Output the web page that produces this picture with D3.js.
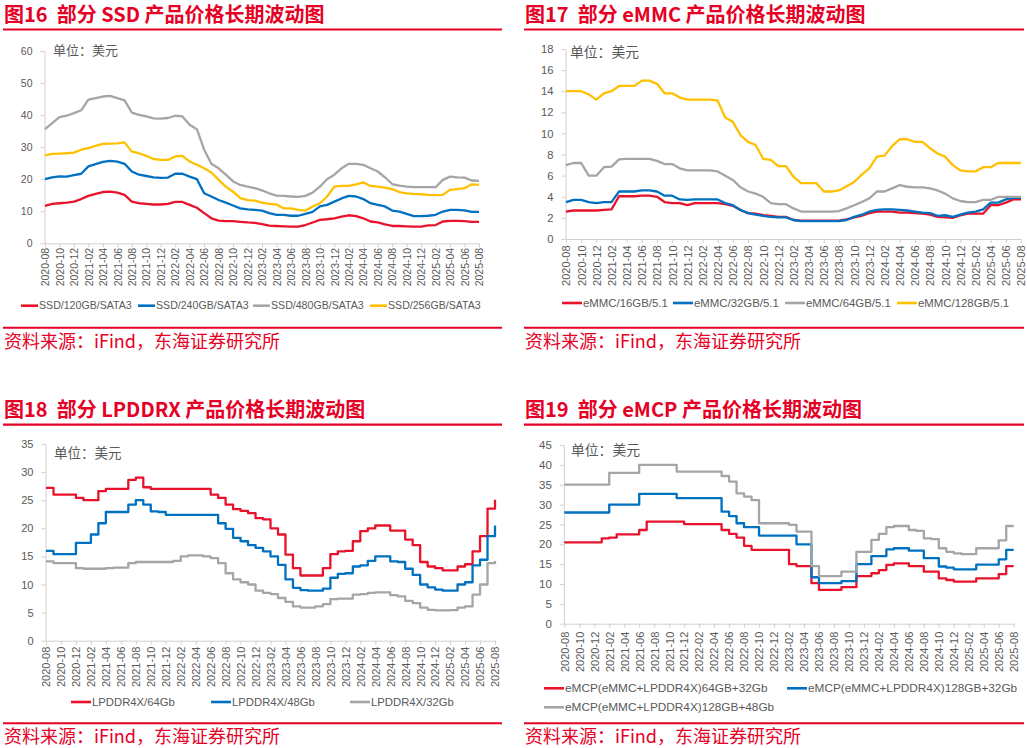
<!DOCTYPE html>
<html><head><meta charset="utf-8">
<script src="https://cdn.jsdelivr.net/npm/d3@7"></script>
<style>body{margin:0;background:#fff}svg{display:block}</style>
</head><body><svg id="c" width="1027" height="748"></svg>
<script>
// ---------- data ----------
const tickLabels = ["2020-08","2020-10","2020-12","2021-02","2021-04","2021-06","2021-08","2021-10","2021-12",
  "2022-02","2022-04","2022-06","2022-08","2022-10","2022-12","2023-02","2023-04","2023-06","2023-08","2023-10",
  "2023-12","2024-02","2024-04","2024-06","2024-08","2024-10","2024-12","2025-02","2025-04","2025-06","2025-08"];

// Fig16 SSD (monthly, 2020-08 .. 2025-08)
const ssdNames = ["SSD/120GB/SATA3","SSD/240GB/SATA3","SSD/480GB/SATA3","SSD/256GB/SATA3"];
const ssd120 = [11.7,12.3,12.5,12.7,13,13.8,14.8,15.4,16,16.1,15.8,15.1,13,12.5,12.3,12.1,12.1,12.3,12.9,12.9,
  12,11.1,9.4,7.8,7.1,6.9,6.9,6.7,6.5,6.4,6,5.5,5.4,5.3,5.2,5.2,5.7,6.5,7.3,7.5,
  7.8,8.3,8.75,8.5,7.8,6.8,6.5,5.9,5.4,5.4,5.3,5.2,5.2,5.6,5.7,6.8,7,7,6.9,6.7,6.7];
const ssd240 = [20,20.6,20.9,20.8,21.3,21.7,24,24.7,25.4,25.7,25.5,24.8,22.4,21.4,21,20.6,20.4,20.5,21.7,21.7,
  20.8,20,15.6,14.6,13.5,12.7,11.8,10.9,10.6,10.4,10.2,9.4,8.9,8.9,8.6,8.6,9.2,9.8,11.5,12,
  13,14,14.8,14.6,13.8,12.5,12,11.5,10.2,9.9,9.2,8.5,8.5,8.6,8.9,9.9,10.4,10.4,10.3,9.8,9.8];
const ssd480 = [35.6,37.5,39.4,39.8,40.6,41.5,44.8,45.3,45.8,46,45.3,44.6,40.8,40.1,39.6,39,38.9,39.1,39.8,39.6,
  37,35.6,29.2,24.8,23.4,21.4,19.3,18.2,17.7,17.2,16.5,15.6,14.9,14.8,14.6,14.5,14.8,15.8,17.7,20,
  21.4,23.4,24.8,24.8,24.5,23.4,22.4,20.6,18.5,18,17.7,17.5,17.5,17.5,17.5,19.8,20.8,20.6,20.5,19.6,19.5];
const ssd256 = [27.4,27.9,28,28.1,28.3,29.2,29.7,30.4,31,31.1,31.2,31.5,28.6,28.1,27.3,26.3,26,26,27.1,27.3,
  25.5,24.5,23.4,22.1,19.8,17.7,16.1,14.1,13.5,13.3,12.7,12.3,12.1,10.9,10.9,10.4,10.2,11.5,12.5,14.6,
  17.7,17.9,17.9,18.4,19,17.9,17.7,17.4,16.9,16,15.6,15.4,15.3,15.1,15,15.1,16.7,16.9,17.2,18.4,18.2];

// Fig17 eMMC
const emmcNames = ["eMMC/16GB/5.1","eMMC/32GB/5.1","eMMC/64GB/5.1","eMMC/128GB/5.1"];
const emmc16 = [2.6,2.7,2.7,2.7,2.7,2.75,2.8,4.05,4.05,4.05,4.1,4.1,4,3.5,3.4,3.4,3.2,3.4,3.4,3.4,
  3.4,3.3,3.15,2.75,2.45,2.4,2.25,2.2,2.1,2.1,1.8,1.75,1.75,1.75,1.75,1.75,1.75,1.85,2.05,2.2,
  2.45,2.6,2.6,2.6,2.5,2.5,2.45,2.4,2.3,2.1,2.05,2,2.25,2.4,2.4,2.4,3.2,3.2,3.45,3.75,3.75];
const emmc32 = [3.5,3.7,3.7,3.5,3.4,3.5,3.5,4.5,4.5,4.5,4.6,4.6,4.5,4.1,4.1,3.75,3.7,3.75,3.75,3.75,
  3.75,3.4,3.2,2.75,2.45,2.3,2.2,2.1,2.05,2.05,1.8,1.7,1.7,1.7,1.7,1.7,1.7,1.8,2.1,2.3,
  2.6,2.75,2.8,2.8,2.75,2.7,2.6,2.5,2.45,2.2,2.25,2.1,2.3,2.5,2.6,2.8,3.45,3.45,3.75,3.9,3.9];
const emmc64 = [7,7.2,7.2,6,6,6.8,6.85,7.55,7.6,7.6,7.6,7.6,7.4,7.1,7.1,6.7,6.5,6.5,6.5,6.5,
  6.4,6,5.6,4.9,4.5,4.3,4,3.4,3.3,3.3,2.9,2.6,2.6,2.6,2.6,2.6,2.65,2.9,3.2,3.5,
  3.85,4.5,4.5,4.8,5.1,4.95,4.9,4.9,4.8,4.6,4.3,3.85,3.6,3.5,3.5,3.7,3.7,4,4,4,4];
const emmc128 = [14,14,14,13.7,13.2,13.8,14,14.5,14.5,14.5,15,15,14.7,13.8,13.8,13.4,13.2,13.2,13.2,13.2,
  13.1,11.5,11.1,9.85,9.2,8.9,7.6,7.5,6.9,6.9,5.9,5.3,5.3,5.3,4.5,4.5,4.6,5,5.4,6.1,
  6.7,7.8,7.9,8.8,9.45,9.45,9.2,9.2,8.6,8.1,7.8,7,6.5,6.4,6.4,6.8,6.8,7.2,7.2,7.2,7.2];

// Fig18 LPDDR4X
const lpNames = ["LPDDR4X/64Gb","LPDDR4X/48Gb","LPDDR4X/32Gb"];
const lp64 = [27.2,26,26,26,25.4,25,25,26.6,27,27,27,28.6,29,27.3,27,27,27,27,27,27,
  27,27,26,25.4,24.2,23.4,23.1,22.7,21.8,21.6,20,18.9,15.3,12.9,11.6,11.6,11.6,12.9,15.4,15.9,
  16,17.7,19.5,20,20.5,20.5,19.6,19.6,18,17,14,13.2,12.9,12.5,12.5,13.2,13.6,15.9,18.6,23.5,25.1];
const lp48 = [16,15.4,15.4,15.4,17.4,17.4,18.9,20.9,22.9,22.9,22.9,24.2,25,24.2,23,22.9,22.4,22.4,22.4,22.4,
  22.4,22.4,22.4,20.9,19.9,18.3,17.7,17,16.5,15.9,15,13.5,10.9,9.4,9,8.9,8.9,9.25,11.2,11.9,
  12,13.2,13.4,14.2,15,15,14.1,14,12.8,11.7,10,9.5,9.1,8.9,8.9,10,10.4,13.4,14.4,18.6,20.5];
const lp32 = [14.1,13.8,13.8,13.8,12.9,12.8,12.8,12.8,12.9,13,13,13.8,14,14,14,14,14,14.2,15,15.2,
  15.2,15,14.7,13.8,12,10.9,10.4,10,8.9,8.5,8.3,7.6,6.9,6.1,5.9,5.9,6.1,6.5,7.4,7.5,
  7.5,8.2,8.3,8.5,8.6,8.6,8.1,7.9,7.1,6.7,5.9,5.5,5.4,5.4,5.45,5.9,6.1,8.2,10,13.8,14.2];

// Fig19 eMCP
const mcpNames = ["eMCP(eMMC+LPDDR4X)64GB+32Gb","eMCP(eMMC+LPDDR4X)128GB+32Gb","eMCP(eMMC+LPDDR4X)128GB+48Gb"];
const mcp64_32 = [20.5,20.5,20.5,20.5,20.5,21.5,21.7,22.5,22.5,22.5,23.6,25.7,25.7,25.7,25.7,25.7,25.1,25.1,25.1,25.1,
  25.1,23.6,22.6,21.7,19.6,18.6,18.6,18.6,18.6,18.6,15,14.5,14.5,10.2,8.5,8.5,8.5,9.2,9.2,12,
  12,12.7,13.5,14.8,15.2,15.2,14.5,14.5,13.1,13.1,11.4,11,10.6,10.6,10.6,11.4,11.4,11.4,12.5,14.5,14.5];
const mcp128_32 = [28,28,28,28,28,28,30,30,30,30,32.7,32.7,32.7,32.7,32.7,31.6,31.6,31.6,31.6,31.6,
  31.6,28.2,27.1,25.3,24.3,24.3,22.2,22.2,22.2,22.2,22.2,20,20,11.7,10.2,10.2,10.2,10.7,10.7,15,
  15,17,17,18.7,19,19,18.4,18.4,16.5,16.5,14.4,14.1,13.7,13.7,13.7,14.9,14.9,14.9,16.2,18.6,18.6];
const mcp128_48 = [35,35,35,35,35,35,38,38,38,38,40,40,40,40,40,38.3,38.3,38.3,38.3,38.3,
  38.3,37.2,35.8,32.8,32,31.1,25.3,25.3,25.3,25.3,24.9,23.2,23.2,14.5,12,12,12,13.1,13.1,18.1,
  18.1,21.1,22.6,24.3,24.6,24.6,23.6,23.4,21.5,21.3,19,18.1,17.7,17.5,17.5,19,19,19,21,24.6,24.6];

const titles = ["图16  部分 SSD 产品价格长期波动图","图17  部分 eMMC 产品价格长期波动图",
  "图18  部分 LPDDRX 产品价格长期波动图","图19  部分 eMCP 产品价格长期波动图"];
const unitLabel = "单位：美元";
const sourceLabel = "资料来源：iFind，东海证券研究所";

// ---------- style / layout ----------
const RED = "#E60026";
const C4 = ["#E8132B","#0070C0","#A5A5A5","#FFC000"];
const C3 = ["#E8132B","#0070C0","#A5A5A5"];
const LATIN = "'Liberation Sans', Arial, sans-serif";
const CJK = "'Noto Sans CJK SC', 'Noto Sans', sans-serif";
const AXC = "#D0D0D0", TXC = "#595959";

const panels = [
  {title:titles[0], tx:4, ty:22, rule:[3,502,29.5], x0:45, x1:479, yBot:243.3, yTop:51, ymax:60, step:10,
   series:[ssd120,ssd240,ssd480,ssd256], names:ssdNames, colors:C4, tfs:10.5, xfs:10.5, xgap:4.5,
   unit:[53,54.5,13], legend:[[21,305.7],[138,305.7],[253,305.7],[370,305.7]], lfs:10.6, sw:17,
   src:[3,502,327.7,4,348], curve:d3.curveLinear},
  {title:titles[1], tx:525, ty:22, rule:[524,1024,29.5], x0:566, x1:1021, yBot:239, yTop:49, ymax:18, step:2,
   series:[emmc16,emmc32,emmc64,emmc128], names:emmcNames, colors:C4, tfs:11.2, xfs:11, xgap:6.5,
   unit:[570,57,13.8], legend:[[562,303],[673,303],[785,303],[897,303]], lfs:11.4, sw:20,
   src:[524,1024,327.7,525,348], curve:d3.curveLinear},
  {title:titles[2], tx:4, ty:417, rule:[3,502,424.7], x0:46, x1:495, yBot:640.7, yTop:444, ymax:35, step:5,
   series:[lp64,lp48,lp32], names:lpNames, colors:C3, tfs:11, xfs:11, xgap:6,
   unit:[54,458,13.5], legend:[[71,702],[211,702],[350,702]], lfs:11.3, sw:20,
   src:[3,502,723.3,4,743], curve:d3.curveStepAfter},
  {title:titles[3], tx:525, ty:417, rule:[524,1024,424.7], x0:564.3, x1:1013.7, yBot:623.7, yTop:445, ymax:45, step:5,
   series:[mcp64_32,mcp128_32,mcp128_48], names:mcpNames, colors:C3, tfs:11.5, xfs:11, xgap:8,
   unit:[571,455,13.8], legend:[[544,688.3],[787,688.3],[544,707.3]], lfs:11.8, sw:20,
   src:[524,1024,723.3,525,743], curve:d3.curveStepAfter}
];

const svg = d3.select("#c");

function drawPanel(p) {
  const g = svg.append("g");
  g.append("text").attr("x", p.tx).attr("y", p.ty).text(p.title)
    .attr("xml:space", "preserve").style("white-space", "pre")
    .attr("fill", RED).attr("font-size", 20).attr("font-weight", "bold").attr("font-family", CJK);
  g.append("line").attr("x1", p.rule[0]).attr("x2", p.rule[1]).attr("y1", p.rule[2]).attr("y2", p.rule[2])
    .attr("stroke", RED).attr("stroke-width", 2.2);

  const n = p.series[0].length;
  const x = d3.scaleLinear().domain([0, n - 1]).range([p.x0, p.x1]);
  const y = d3.scaleLinear().domain([0, p.ymax]).range([p.yBot, p.yTop]);

  // y axis
  const ya = g.append("g").attr("transform", `translate(${p.x0 - 0.5},0)`)
    .call(d3.axisLeft(y).tickValues(d3.range(0, p.ymax + 1e-6, p.step)).tickSize(4).tickSizeOuter(0).tickPadding(8));
  ya.select(".domain").attr("stroke", AXC);
  ya.selectAll(".tick line").attr("stroke", AXC);
  ya.selectAll(".tick text").attr("fill", TXC).attr("font-size", p.tfs).attr("font-family", LATIN);

  // x axis
  const xa = g.append("g").attr("transform", `translate(0,${p.yBot})`)
    .call(d3.axisBottom(x).tickValues(d3.range(0, n, 2)).tickFormat(i => tickLabels[i / 2]).tickSize(4).tickSizeOuter(0));
  xa.select(".domain").attr("stroke", AXC);
  xa.selectAll(".tick line").attr("stroke", AXC);
  xa.selectAll(".tick text").attr("fill", TXC).attr("font-size", p.xfs).attr("font-family", LATIN)
    .attr("transform", "rotate(-90)").attr("text-anchor", "end")
    .attr("x", -p.xgap).attr("y", 0).attr("dy", "0.35em");

  // unit label
  g.append("text").attr("x", p.unit[0]).attr("y", p.unit[1]).text(unitLabel)
    .attr("fill", TXC).attr("font-size", p.unit[2]).attr("font-family", CJK);

  // lines
  const line = d3.line().x((d, i) => x(i)).y(d => y(d)).curve(p.curve);
  p.series.forEach((s, k) => {
    g.append("path").datum(s).attr("d", line).attr("fill", "none")
      .attr("stroke", p.colors[k]).attr("stroke-width", 2.3).attr("stroke-linejoin", "round");
  });

  // legend
  p.names.forEach((nm, k) => {
    const [lx, ly] = p.legend[k];
    g.append("line").attr("x1", lx).attr("x2", lx + p.sw).attr("y1", ly).attr("y2", ly)
      .attr("stroke", p.colors[k]).attr("stroke-width", 2.6);
    g.append("text").attr("x", lx + p.sw + 1).attr("y", ly).attr("dy", "0.35em").text(nm)
      .attr("fill", TXC).attr("font-size", p.lfs).attr("font-family", LATIN);
  });

  // source
  g.append("line").attr("x1", p.src[0]).attr("x2", p.src[1]).attr("y1", p.src[2]).attr("y2", p.src[2])
    .attr("stroke", RED).attr("stroke-width", 2);
  g.append("text").attr("x", p.src[3]).attr("y", p.src[4]).text(sourceLabel)
    .attr("fill", RED).attr("font-size", 18).attr("font-family", CJK);
}

panels.forEach(drawPanel);
</script></body></html>
